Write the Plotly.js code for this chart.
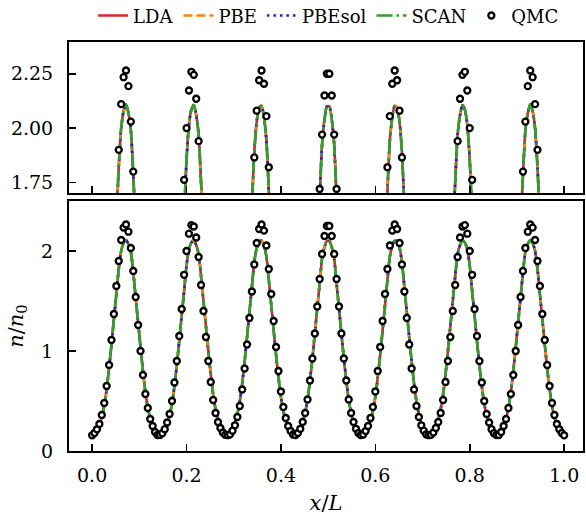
<!DOCTYPE html>
<html>
<head>
<meta charset="utf-8">
<script src="https://cdn.plot.ly/plotly-3.0.1.min.js"></script>
<style>html,body{margin:0;padding:0;background:#fff;}#chart{width:586px;height:518px;}</style>
</head>
<body>
<div id="chart"></div>
<script>
// Sampling grid: x/L from 0 to 1, uniform spacing
const X_START = 0;
const X_STEP = 1 / 195;

// QMC density n/n0 (196 points)
const qmcDensity = [
  0.157, 0.18, 0.217, 0.27, 0.36, 0.48, 0.65, 0.86, 1.11, 1.37,
  1.65, 1.90, 2.11, 2.234, 2.265, 2.193, 2.03, 1.80, 1.54, 1.26,
  1.00, 0.76, 0.57, 0.43, 0.32, 0.25, 0.19, 0.16, 0.16, 0.178,
  0.218, 0.285, 0.37, 0.50, 0.685, 0.90, 1.15, 1.42, 1.762, 2.00,
  2.173, 2.259, 2.245, 2.135, 1.94, 1.66, 1.40, 1.14, 0.90, 0.69,
  0.51, 0.38, 0.29, 0.23, 0.185, 0.162, 0.158, 0.167, 0.203, 0.257,
  0.34, 0.45, 0.615, 0.825, 1.065, 1.33, 1.595, 1.865, 2.08, 2.22,
  2.265, 2.204, 2.055, 1.82, 1.57, 1.30, 1.04, 0.80, 0.595, 0.44,
  0.33, 0.25, 0.20, 0.165, 0.16, 0.18, 0.222, 0.29, 0.38, 0.515,
  0.705, 0.925, 1.175, 1.445, 1.72, 1.97, 2.15, 2.25,
  2.25, 2.15, 1.97, 1.72, 1.445, 1.175, 0.925, 0.705, 0.515, 0.38,
  0.29, 0.222, 0.18, 0.16, 0.165, 0.20, 0.25, 0.33, 0.44, 0.595,
  0.80, 1.04, 1.30, 1.57, 1.82, 2.055, 2.204, 2.265, 2.22, 2.08,
  1.865, 1.595, 1.33, 1.065, 0.825, 0.615, 0.45, 0.34, 0.257, 0.203,
  0.167, 0.158, 0.162, 0.185, 0.23, 0.29, 0.38, 0.51, 0.69, 0.90,
  1.14, 1.40, 1.66, 1.94, 2.135, 2.245, 2.259, 2.173, 2.00, 1.762,
  1.42, 1.15, 0.90, 0.685, 0.50, 0.37, 0.285, 0.218, 0.178, 0.16,
  0.16, 0.19, 0.25, 0.32, 0.43, 0.57, 0.76, 1.00, 1.26, 1.54,
  1.80, 2.03, 2.193, 2.265, 2.234, 2.11, 1.90, 1.65, 1.37, 1.11,
  0.86, 0.65, 0.48, 0.36, 0.27, 0.217, 0.18, 0.157
];

// DFT densities (LDA, PBE, PBEsol, SCAN are indistinguishable in the figure)
const dftDensity = [
  0.157, 0.168, 0.204, 0.258, 0.34, 0.452, 0.618, 0.829, 1.065, 1.32,
  1.57, 1.82, 2.00, 2.078, 2.11, 2.07, 1.99, 1.785, 1.535, 1.285,
  1.035, 0.80, 0.59, 0.435, 0.327, 0.248, 0.198, 0.165, 0.158, 0.172,
  0.21, 0.27, 0.355, 0.475, 0.645, 0.86, 1.10, 1.355, 1.60, 1.855,
  2.015, 2.085, 2.106, 2.06, 1.97, 1.75, 1.50, 1.25, 1.00, 0.77,
  0.565, 0.418, 0.316, 0.24, 0.193, 0.163, 0.159, 0.177, 0.216, 0.28,
  0.37, 0.495, 0.675, 0.895, 1.14, 1.39, 1.64, 1.89, 2.03, 2.093,
  2.103, 2.05, 1.945, 1.71, 1.46, 1.205, 0.96, 0.735, 0.54, 0.40,
  0.303, 0.23, 0.187, 0.162, 0.16, 0.18, 0.222, 0.29, 0.38, 0.515,
  0.705, 0.925, 1.17, 1.425, 1.673, 1.925, 2.04, 2.10,
  2.10, 2.04, 1.925, 1.673, 1.425, 1.17, 0.925, 0.705, 0.515, 0.38,
  0.29, 0.222, 0.18, 0.16, 0.162, 0.187, 0.23, 0.303, 0.40, 0.54,
  0.735, 0.96, 1.205, 1.46, 1.71, 1.945, 2.05, 2.103, 2.093, 2.03,
  1.89, 1.64, 1.39, 1.14, 0.895, 0.675, 0.495, 0.37, 0.28, 0.216,
  0.177, 0.159, 0.163, 0.193, 0.24, 0.316, 0.418, 0.565, 0.77, 1.00,
  1.25, 1.50, 1.75, 1.97, 2.06, 2.106, 2.085, 2.015, 1.855, 1.60,
  1.355, 1.10, 0.86, 0.645, 0.475, 0.355, 0.27, 0.21, 0.172, 0.158,
  0.165, 0.198, 0.248, 0.327, 0.435, 0.59, 0.80, 1.035, 1.285, 1.535,
  1.785, 1.99, 2.07, 2.11, 2.078, 2.00, 1.82, 1.57, 1.32, 1.065,
  0.829, 0.618, 0.452, 0.34, 0.258, 0.204, 0.168, 0.157
];

const seriesNames = ['LDA', 'PBE', 'PBEsol', 'SCAN', 'QMC'];
const lineColors = ['#d62728', '#ff7f0e', '#1c1cc8', '#2ca02c'];
const lineDashes = ['solid', '9px,4px', '2.5px,4px', '16px,4px,2.5px,4px'];

const xTickVals = [0.0, 0.2, 0.4, 0.6, 0.8, 1.0];
const yTopTicks = [1.75, 2.00, 2.25];
const yBottomTicks = [0, 1, 2];

const FONT = 'DejaVu Serif, Liberation Serif, serif';

const traces = [];
['x', 'x2'].forEach((xa, panel) => {
  const ya = panel === 0 ? 'y' : 'y2';
  for (let k = 0; k < 4; k++) {
    traces.push({
      type: 'scatter', mode: 'lines', name: seriesNames[k],
      x0: X_START, dx: X_STEP, y: dftDensity,
      xaxis: xa, yaxis: ya, showlegend: panel === 0, legendrank: k + 1,
      line: {color: lineColors[k], width: 2.6, dash: lineDashes[k], shape: 'spline', smoothing: 0.6},
      hoverinfo: 'skip'
    });
  }
});
['x', 'x2'].forEach((xa, panel) => {
  const ya = panel === 0 ? 'y' : 'y2';
  traces.push({
    type: 'scatter', mode: 'markers', name: seriesNames[4],
    x0: X_START, dx: X_STEP, y: qmcDensity,
    xaxis: xa, yaxis: ya, showlegend: panel === 0, legendrank: 5,
    marker: {symbol: 'circle', size: 6, color: 'white', line: {color: 'black', width: 2.3}},
    error_y: {type: 'constant', value: 0.004, color: 'black', thickness: 1.2, width: 0},
    hoverinfo: 'skip'
  });
});

const axisCommon = {
  showgrid: false, zeroline: false, showline: true, linecolor: 'black', linewidth: 2,
  mirror: true, ticks: 'inside', ticklen: 7, tickwidth: 1.6, tickcolor: 'black',
  tickfont: {family: FONT, size: 19, color: 'black'}
};

const layout = {
  width: 586, height: 518,
  paper_bgcolor: 'white', plot_bgcolor: 'white',
  margin: {l: 69, r: 3, t: 42, b: 67, autoexpand: false},
  showlegend: true,
  legend: {
    orientation: 'h', x: 0.505, xanchor: 'center', y: 1.064, yanchor: 'middle',
    font: {family: FONT, size: 18, color: 'black'}, itemwidth: 30,
    bgcolor: 'rgba(0,0,0,0)', traceorder: 'normal'
  },
  xaxis: Object.assign({}, axisCommon, {
    domain: [0, 1], anchor: 'y', range: [-0.049, 1.04],
    tickvals: xTickVals, tickformat: '.1f', ticklabelstandoff: 6,
    title: {text: '<i>x</i>/<i>L</i>', font: {family: FONT, size: 21, color: 'black'}, standoff: 11}
  }),
  yaxis: Object.assign({}, axisCommon, {
    domain: [0, 0.6112], anchor: 'x', range: [0, 2.5],
    tickvals: yBottomTicks, tickformat: 'd', ticklabelstandoff: 10,
    title: {text: '<i>n</i>/<i>n</i><sub>0</sub>', font: {family: FONT, size: 21, color: 'black'}, standoff: 12}
  }),
  xaxis2: Object.assign({}, axisCommon, {
    domain: [0, 1], anchor: 'y2', matches: 'x', range: [-0.049, 1.04],
    tickvals: xTickVals, showticklabels: false
  }),
  yaxis2: Object.assign({}, axisCommon, {
    domain: [0.630, 1], anchor: 'x2', range: [1.70, 2.396],
    tickvals: yTopTicks, tickformat: '.2f', ticklabelstandoff: 10
  })
};

Plotly.newPlot('chart', traces, layout, {displayModeBar: false, staticPlot: true});
</script>
</body>
</html>
